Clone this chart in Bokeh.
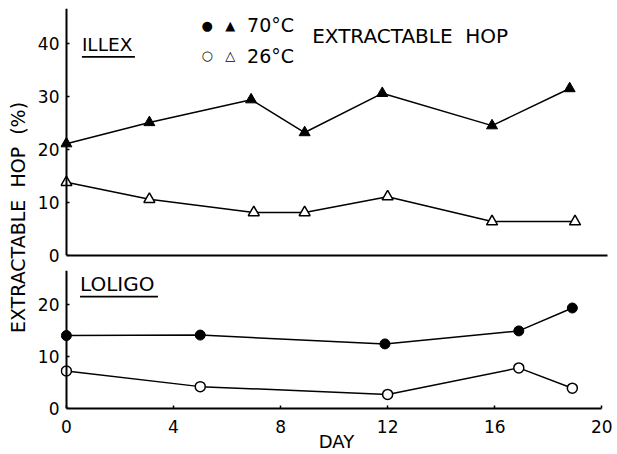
import math
from bokeh.plotting import figure
from bokeh.models import Range1d, FixedTicker, Label, BoxAnnotation, LinearAxis
from bokeh.layouts import row, column
from bokeh.embed import file_html
from bokeh.resources import INLINE

FONT = "DejaVu Sans"
NB = "\u00a0"

# ---- data ----
illex_70_day = [0, 3.1, 6.9, 8.9, 11.8, 15.9, 18.8]
illex_70_hop = [21.1, 25.1, 29.4, 23.2, 30.6, 24.5, 31.5]
illex_26_day = [0, 3.1, 7.0, 8.9, 12.0, 15.9, 19.0]
illex_26_hop = [13.8, 10.6, 8.1, 8.1, 11.1, 6.4, 6.4]
loligo_70_day = [0, 5.0, 11.9, 16.9, 18.9]
loligo_70_hop = [14.0, 14.1, 12.4, 14.9, 19.3]
loligo_26_day = [0, 5.0, 12.0, 16.9, 18.9]
loligo_26_hop = [7.2, 4.2, 2.7, 7.8, 3.9]
x_ticks = [0, 4, 8, 12, 16, 20]
illex_y_ticks = [0, 10, 20, 30, 40]
loligo_y_ticks = [0, 10, 20]


def make_panel(height, y_end, border_top, border_bottom, yticks):
    p = figure(width=589, height=height, x_range=Range1d(-0.22, 20.4),
               y_range=Range1d(0, y_end), output_backend="svg", toolbar_location=None,
               min_border_left=32, min_border_right=5, min_border_top=border_top,
               min_border_bottom=border_bottom, x_axis_type=None, y_axis_type=None)
    p.outline_line_color = None
    p.background_fill_color = "white"
    p.border_fill_color = "white"
    # axis line + small inward ticks, drawn at day 0 (no labels of its own)
    yline = LinearAxis(ticker=FixedTicker(ticks=yticks), fixed_location=0, bounds=(0, y_end))
    yline.axis_line_width = 2
    yline.axis_line_color = "black"
    yline.major_tick_in = 3
    yline.major_tick_out = 0
    yline.major_tick_line_width = 1.5
    yline.major_label_standoff = 0
    yline.major_label_overrides = {t: "" for t in yticks}
    p.add_layout(yline, "left")
    # tick labels only
    ylab = LinearAxis(ticker=FixedTicker(ticks=yticks))
    ylab.axis_line_color = None
    ylab.major_tick_line_color = None
    ylab.major_tick_in = 0
    ylab.major_tick_out = 0
    ylab.major_label_standoff = 1
    ylab.major_label_text_font = FONT
    ylab.major_label_text_font_size = "17px"
    ylab.major_label_text_color = "black"
    p.add_layout(ylab, "left")
    return p


# ---- top panel : ILLEX ----
top = make_panel(268, 46.6, 8, 13, illex_y_ticks)
xa_top = LinearAxis(ticker=FixedTicker(ticks=[]), bounds=(0, 20.2))
xa_top.axis_line_width = 2
xa_top.axis_line_color = "black"
top.add_layout(xa_top, "below")

top.line(illex_70_day, illex_70_hop, line_width=1.5, line_color="black")
top.line(illex_26_day, illex_26_hop, line_width=1.5, line_color="black")
top.scatter(illex_70_day, illex_70_hop, marker="triangle", size=11,
            fill_color="black", line_color="black")
top.scatter(illex_26_day, illex_26_hop, marker="triangle", size=11,
            fill_color="white", line_color="black", line_width=1.5)

top.add_layout(Label(x=0.58, y=39.8, text="ILLEX", text_font=FONT, text_font_size="18.5px",
                     text_baseline="middle", text_color="black"))
top.add_layout(BoxAnnotation(left=0.58, right=2.56, bottom=37.3, top=37.65,
                             fill_color="black", fill_alpha=1, line_color=None))
top.add_layout(Label(x=5.05, y=43.4, text="●" + NB * 3 + "▲", text_font=FONT,
                     text_font_size="13px", text_baseline="middle", text_color="black"))
top.add_layout(Label(x=6.75, y=43.4, text="70°C", text_font=FONT, text_font_size="19px",
                     text_baseline="middle", text_color="black"))
top.add_layout(Label(x=5.05, y=37.7, text="○" + NB * 3 + "△", text_font=FONT,
                     text_font_size="13px", text_baseline="middle", text_color="black"))
top.add_layout(Label(x=6.75, y=37.7, text="26°C", text_font=FONT, text_font_size="19px",
                     text_baseline="middle", text_color="black"))
top.add_layout(Label(x=9.18, y=41.5, text="EXTRACTABLE" + NB * 2 + "HOP", text_font=FONT,
                     text_font_size="20px", text_baseline="middle", text_color="black"))

# ---- bottom panel : LOLIGO ----
bot = make_panel(186, 26.5, 2, 45, loligo_y_ticks)
xa = LinearAxis(ticker=FixedTicker(ticks=x_ticks), bounds=(0, 20), axis_label="DAY")
xa.axis_line_width = 2
xa.axis_line_color = "black"
xa.major_tick_in = 3
xa.major_tick_out = 0
xa.major_tick_line_width = 1.5
xa.major_label_standoff = 11
xa.major_label_text_font = FONT
xa.major_label_text_font_size = "17px"
xa.major_label_text_color = "black"
xa.axis_label_text_font = FONT
xa.axis_label_text_font_size = "18px"
xa.axis_label_text_font_style = "normal"
xa.axis_label_text_color = "black"
xa.axis_label_standoff = -5
bot.add_layout(xa, "below")

bot.line(loligo_70_day, loligo_70_hop, line_width=1.5, line_color="black")
bot.line(loligo_26_day, loligo_26_hop, line_width=1.5, line_color="black")
bot.scatter(loligo_70_day, loligo_70_hop, marker="circle", size=10,
            fill_color="black", line_color="black")
bot.scatter(loligo_26_day, loligo_26_hop, marker="circle", size=10,
            fill_color="white", line_color="black", line_width=1.5)

bot.add_layout(Label(x=0.51, y=23.9, text="LOLIGO", text_font=FONT, text_font_size="20px",
                     text_baseline="middle", text_color="black"))
bot.add_layout(BoxAnnotation(left=0.51, right=3.42, bottom=21.3, top=21.65,
                             fill_color="black", fill_alpha=1, line_color=None))

# ---- shared y label strip ----
strip = figure(width=28, height=454, x_range=Range1d(0, 28), y_range=Range1d(0, 454),
               output_backend="svg", toolbar_location=None, min_border=0,
               x_axis_type=None, y_axis_type=None)
strip.outline_line_color = None
strip.add_layout(Label(x=17, y=237, text="EXTRACTABLE" + NB * 2 + "HOP" + NB * 2 + "(%)",
                       angle=math.pi / 2, text_align="center", text_baseline="middle",
                       text_font=FONT, text_font_size="19px", text_color="black"))

layout = row(strip, column(top, bot, spacing=0), spacing=0)

with open("out.html", "w") as f:
    f.write(file_html(layout, INLINE))
